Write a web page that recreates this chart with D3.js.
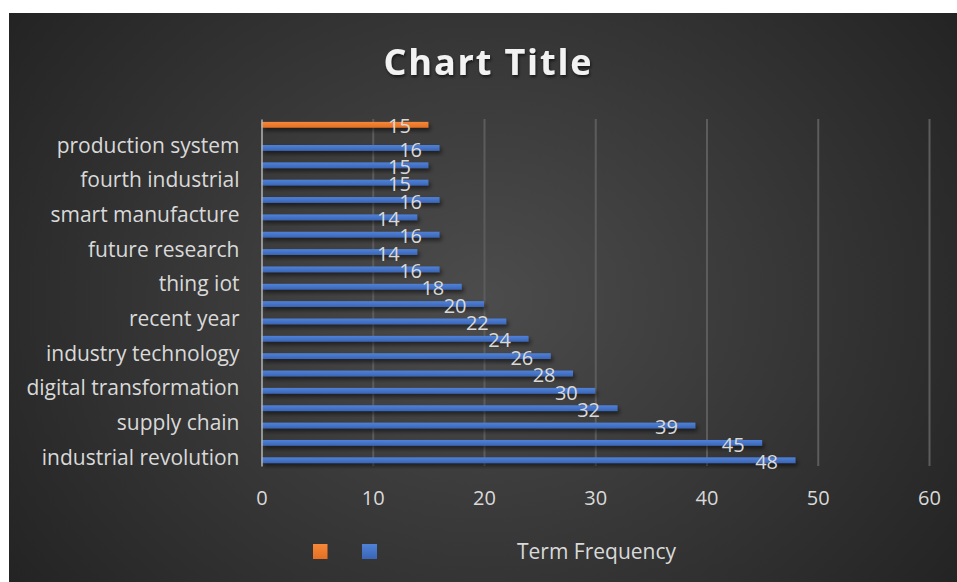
<!DOCTYPE html>
<html>
<head>
<meta charset="utf-8">
<script src="https://cdn.jsdelivr.net/npm/d3@7/dist/d3.min.js"></script>
<style>
  html, body { margin: 0; padding: 0; background: #ffffff; }
  svg { display: block; }
  text { font-family: "Open Sans", "DejaVu Sans", sans-serif; }
</style>
</head>
<body>
<div class="chart"></div>
<script>
// 데이터 (아래에서 위로)
var terms = ["industrial revolution", null, "supply chain", null, "digital transformation", null,
             "industry technology", null, "recent year", null, "thing iot", null,
             "future research", null, "smart manufacture", null, "fourth industrial", null,
             "production system", null];
var frequency = [48, 45, 39, 32, 30, 28, 26, 24, 22, 20, 18, 16, 14, 16, 14, 16, 15, 15, 16, null];
var extra     = [null, null, null, null, null, null, null, null, null, null,
                 null, null, null, null, null, null, null, null, null, 15];
var xTicks = [0, 10, 20, 30, 40, 50, 60];
var seriesNames = ["", "Term Frequency"];

var W = 957, H = 582;
var margin = { top: 119, right: 28, bottom: 116, left: 261.5 },
    width = W - margin.left - margin.right,
    height = H - margin.top - margin.bottom;

var svg = d3.select(".chart").append("svg")
    .attr("width", W).attr("height", H);

var defs = svg.append("defs");

// 배경 그라데이션
var bg = defs.append("radialGradient").attr("id", "bg")
    .attr("cx", "50%").attr("cy", "50%").attr("r", "62%")
    .attr("gradientTransform", "translate(0.5,0.5) scale(1,1.4) translate(-0.5,-0.5)");
bg.append("stop").attr("offset", "0%").attr("stop-color", "#4c4c4c");
bg.append("stop").attr("offset", "100%").attr("stop-color", "#232323");

var gBlue = defs.append("linearGradient").attr("id", "gBlue").attr("x1", 0).attr("y1", 0).attr("x2", 0).attr("y2", 1);
gBlue.append("stop").attr("offset", "0%").attr("stop-color", "#4f82d8");
gBlue.append("stop").attr("offset", "100%").attr("stop-color", "#3b65b6");
var gOrange = defs.append("linearGradient").attr("id", "gOrange").attr("x1", 0).attr("y1", 0).attr("x2", 0).attr("y2", 1);
gOrange.append("stop").attr("offset", "0%").attr("stop-color", "#f6883a");
gOrange.append("stop").attr("offset", "100%").attr("stop-color", "#e46f22");

var shadow = defs.append("filter").attr("id", "shadow")
    .attr("x", "-5%").attr("y", "-50%").attr("width", "115%").attr("height", "250%");
shadow.append("feDropShadow").attr("dx", 2).attr("dy", 3).attr("stdDeviation", 2)
    .attr("flood-color", "#000").attr("flood-opacity", 0.55);

var tshadow = defs.append("filter").attr("id", "tshadow");
tshadow.append("feDropShadow").attr("dx", 1).attr("dy", 2).attr("stdDeviation", 1.5)
    .attr("flood-color", "#000").attr("flood-opacity", 0.6);

svg.append("rect").attr("x", 9).attr("y", 13).attr("width", W - 9).attr("height", H - 13)
    .attr("fill", "url(#bg)");

// 제목
var title = svg.append("text")
    .attr("x", 488.5).attr("y", 74.5)
    .attr("text-anchor", "middle")
    .attr("font-size", "36px").attr("font-weight", "bold")
    .attr("fill", "#f2f2f2")
    .attr("filter", "url(#tshadow)")
    .text("Chart Title");
// 글자 간격 맞추기
var tw = title.node().getComputedTextLength();
title.attr("letter-spacing", ((208 - tw) / 10) + "px");

var g = svg.append("g").attr("transform", "translate(" + margin.left + "," + margin.top + ")");

// 척도
var x = d3.scaleLinear().domain([0, 60]).range([0, width]);
var y = d3.scaleBand().domain(d3.range(terms.length).reverse()).range([0, height]);
var ySub = d3.scaleBand().domain([0, 1]).range([0, y.bandwidth()]).paddingOuter(0.5);

// 격자
g.append("g")
  .call(d3.axisBottom(x).tickValues(xTicks.slice(1)).tickSize(height).tickFormat(""))
  .call(function (s) { s.select(".domain").remove(); })
  .selectAll("line").attr("stroke", "#5c5c5c").attr("stroke-width", 2);

// x축
g.append("g")
  .attr("transform", "translate(0," + height + ")")
  .call(d3.axisBottom(x).tickValues(xTicks).tickSize(0).tickPadding(25))
  .call(function (s) { s.select(".domain").remove(); })
  .selectAll("text")
  .attr("font-size", "20px").attr("fill", "#d9d9d9").attr("font-family", "Open Sans");

// 막대
var series = [extra, frequency];
var fills = ["url(#gOrange)", "url(#gBlue)"];
series.forEach(function (vals, si) {
  var data = vals.map(function (v, i) { return { i: i, v: v }; })
                 .filter(function (d) { return d.v != null; });
  g.selectAll(".bar" + si).data(data).enter().append("rect")
    .attr("class", "bar" + si)
    .attr("x", 0)
    .attr("y", function (d) { return y(d.i) + ySub(si); })
    .attr("width", function (d) { return x(d.v); })
    .attr("height", ySub.bandwidth())
    .attr("fill", fills[si])
    .attr("filter", "url(#shadow)");
});

// y축
var labelled = d3.range(terms.length).filter(function (i) { return terms[i]; });
g.append("g")
  .call(d3.axisLeft(y).tickValues(labelled).tickFormat(function (i) { return terms[i]; })
          .tickSize(0).tickPadding(22))
  .call(function (s) {
    s.select(".domain").attr("stroke", "#b4b4b4").attr("stroke-width", 1.5);
  })
  .selectAll("text")
  .attr("font-size", "21px").attr("fill", "#d9d9d9").attr("font-family", "Open Sans")
  .attr("dy", "0.36em");

// 데이터 레이블
series.forEach(function (vals, si) {
  var data = vals.map(function (v, i) { return { i: i, v: v }; })
                 .filter(function (d) { return d.v != null; });
  g.selectAll(".lab" + si).data(data).enter().append("text")
    .attr("x", function (d) { return x(d.v) - 17.5; })
    .attr("y", function (d) { return y(d.i) + ySub(si) + ySub.bandwidth() / 2 + 1.5; })
    .attr("dy", "0.36em")
    .attr("text-anchor", "end")
    .attr("font-size", "20px")
    .attr("fill", "#d9d9d9")
    .text(function (d) { return d.v; });
});

// 범례
var legend = svg.append("g").attr("transform", "translate(313,544)");
legend.append("rect").attr("x", 0).attr("y", 0).attr("width", 14.5).attr("height", 15).attr("fill", "url(#gOrange)");
legend.append("rect").attr("x", 49).attr("y", 0).attr("width", 15).attr("height", 15).attr("fill", "url(#gBlue)");
legend.append("text").attr("x", 204).attr("y", 7.5).attr("dy", "0.36em")
  .attr("font-size", "21px").attr("fill", "#d9d9d9")
  .text(seriesNames[1]);
</script>
</body>
</html>
